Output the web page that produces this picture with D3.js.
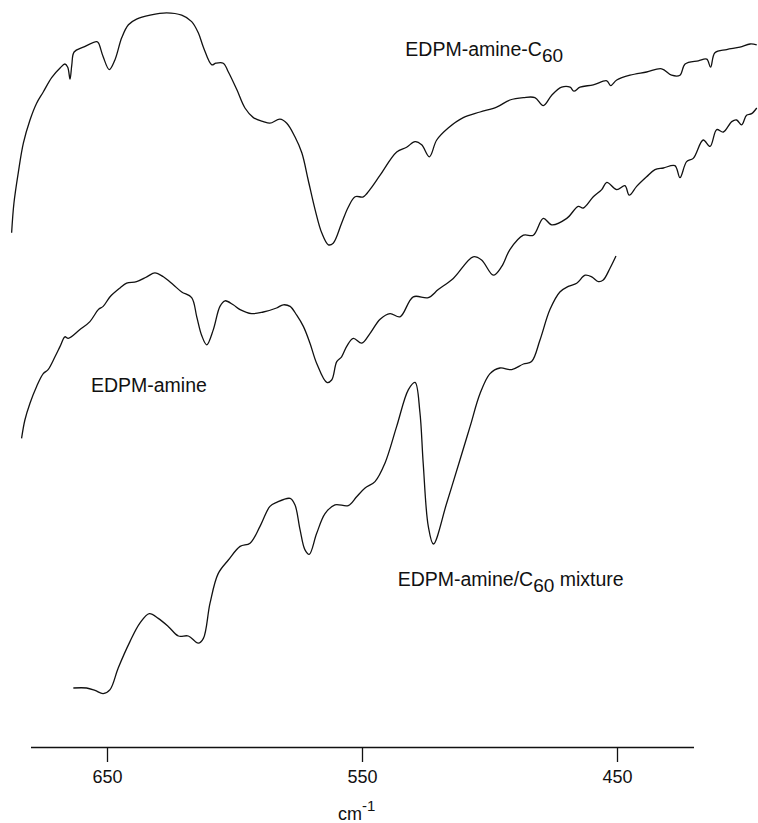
<!DOCTYPE html>
<html>
<head>
<meta charset="utf-8">
<script src="https://cdnjs.cloudflare.com/ajax/libs/d3/7.8.5/d3.min.js"></script>
<style>
  body { margin: 0; background: #fff; }
  svg { display: block; }
  text { font-family: "Liberation Sans", Arial, Helvetica, sans-serif; fill: #111; }
  .line { fill: none; stroke: #111; stroke-width: 1.3; stroke-linejoin: round; }
</style>
</head>
<body>
<script>
"use strict";

// EDPM-amine-C60 (wavenumber, arbitrary transmittance)
var c60Wn = [687.4, 686.5, 684.8, 682.8, 680.2, 677.6, 675, 671.7, 668.4, 666.5, 665.4, 664.5, 663.8, 662.9, 659.3, 654, 653.3, 651.5, 649.1, 646.9, 644.2, 641.6, 638.4, 633.1, 626.6, 620.7, 616.8, 614.2, 612.2, 608.9, 607.3, 604.4, 602.4, 599.1, 595.9, 592.6, 588.7, 586.1, 582.2, 579.5, 576.3, 573.6, 571.1, 568.4, 565.8, 563.2, 561.3, 558, 555.4, 552.7, 549.5, 546.9, 542.9, 536.4, 532.5, 529.2, 526.6, 523.6, 520.7, 516.2, 510.3, 503.7, 497.2, 492, 486.7, 482.2, 478.9, 475.6, 471.7, 468.4, 466.9, 464.5, 459.3, 454, 452.5, 450.1, 444.9, 438.4, 432.5, 428.6, 425.3, 423.3, 418.1, 414.8, 413.3, 411.6, 407, 401.8, 397.8, 395.2];
var c60T = [70.9, 74.6, 78.4, 82.1, 85, 87.1, 88.5, 90.3, 91.5, 92, 91.6, 90.1, 91.9, 93.5, 94.1, 94.8, 94.6, 92.9, 91.3, 92.5, 95.3, 96.9, 97.6, 98.1, 98.4, 98.1, 97.3, 95.9, 94.1, 91.9, 92.1, 92.1, 91, 88.8, 86.5, 85.3, 84.8, 84.6, 85.1, 84.6, 82.9, 80.9, 77.5, 73.8, 70.9, 69.4, 69.6, 72.1, 74.1, 75.4, 75.4, 76.3, 78.1, 81, 81.6, 82.3, 81.9, 80.4, 82.5, 84, 85.3, 86, 86.6, 87.5, 87.8, 87.8, 86.8, 88.1, 89.1, 89.1, 88.6, 89.1, 89.4, 89.9, 89.3, 90, 90.6, 91, 91.4, 90.6, 90.6, 92, 92.4, 92.6, 91.6, 93.4, 93.8, 94.1, 94.5, 94.4];

// EDPM-amine
var amineWn = [683.5, 682.2, 680.2, 677.6, 675, 673.1, 670.4, 668.4, 666.5, 665.2, 660.6, 656.7, 653.4, 651.5, 648.8, 644.9, 642.3, 638.4, 634.4, 631.2, 627.9, 624, 620.7, 616.8, 614.8, 612.9, 610.9, 608.3, 605.7, 603.7, 600.5, 597.8, 593.3, 588.7, 583.5, 580.9, 578.2, 575.6, 573, 570.4, 567.8, 563.8, 561.9, 559.9, 558, 556, 553.4, 550.1, 546.9, 542.9, 539, 535.1, 529.9, 524, 520.1, 514.2, 506.4, 503.1, 498.5, 495.2, 492, 486.7, 482.8, 478.9, 475.6, 469.7, 465.2, 463.2, 459.3, 456, 454, 450.1, 446.9, 445.2, 442.3, 438.4, 435.1, 431.8, 427.3, 425.3, 422.7, 420.1, 416.2, 413.5, 410.9, 408.3, 405, 403.1, 401.1, 399.2, 397.2, 395.2];
var amineT = [45.2, 47.5, 49.6, 51.7, 53.3, 53.8, 55.4, 56.7, 57.9, 57.7, 58.8, 59.8, 61.3, 61.7, 62.9, 64, 64.6, 64.8, 65.4, 65.9, 65.4, 64.4, 63.5, 62.8, 60.4, 58.1, 56.9, 58.8, 61.7, 62.4, 61.9, 61.3, 60.8, 61, 61.5, 61.9, 61.7, 60.6, 59.2, 57.1, 54.6, 52.2, 52.5, 54.8, 55.4, 56.7, 57.7, 57.1, 58.3, 60.1, 60.8, 60.4, 62.9, 62.8, 63.8, 65.2, 67.9, 67.5, 65.6, 66.7, 68.8, 70.6, 70.6, 72.7, 71.9, 72.7, 74.2, 74, 75.4, 76.3, 77.2, 76.3, 76.8, 75.6, 76.7, 77.9, 78.8, 79, 79.3, 77.8, 79.8, 80.2, 82.5, 81.7, 83.8, 83.5, 84.8, 85, 84.4, 85.6, 85.8, 86.5];

// EDPM-amine/C60 mixture
var mixWn = [663.2, 658, 654.7, 651.5, 648.8, 645.6, 641, 637.1, 633.4, 629.9, 626, 622, 618.1, 614.2, 612.2, 609.6, 606.4, 602.4, 597.8, 593.9, 590, 586.1, 583.5, 578.2, 576.3, 574.3, 572.4, 570.7, 567.8, 564.5, 560.6, 555.4, 552.1, 548.8, 544.9, 541, 536.4, 531.8, 529.2, 527.3, 526, 524, 522, 516.8, 511.6, 507.6, 503.7, 499.8, 495.9, 491.3, 486.7, 483.5, 480.2, 476.3, 472.4, 469.1, 465.8, 462.5, 459.9, 457.3, 455.4, 452.7, 450.4];
var mixT = [14, 14, 13.7, 13.3, 13.8, 16.5, 19.8, 22.1, 23.3, 22.7, 21.7, 20.5, 20.5, 19.6, 20.2, 24.6, 28.3, 30, 31.7, 32.1, 34.2, 36.7, 37.2, 37.7, 36.9, 33.8, 31.3, 30.7, 33.3, 35.8, 36.9, 36.8, 37.9, 39, 39.8, 42.1, 46.7, 51.3, 52.2, 48.5, 42.1, 34.2, 32, 37.1, 42.5, 46.7, 50.8, 53.3, 54, 53.8, 54.5, 54.8, 57.5, 61.3, 63.5, 64.2, 64.6, 65.6, 65.4, 64.8, 65, 66.5, 68];

var tickValues = [650, 550, 450];
var axisExtent = [680, 420];

// label text: main part, subscript, tail, anchor (wavenumber, value)
var seriesLabels = [
  { main: "EDPM-amine-C", sub: "60", tail: "", wn: 533, t: 93 },
  { main: "EDPM-amine", sub: "", tail: "", wn: 656.3, t: 51 },
  { main: "EDPM-amine/C", sub: "60", tail: " mixture", wn: 536, t: 26.8 }
];

var width = 758, height = 823;

var svg = d3.select("body").append("svg")
    .attr("width", width)
    .attr("height", height);

// wavenumber runs right to left
var x = d3.scaleLinear().domain([690, 390]).range([5, 770]);
var y = d3.scaleLinear().domain([0, 100]).range([800, 0]);

var valueline = d3.line()
    .x(function(d) { return x(d[0]); })
    .y(function(d) { return y(d[1]); })
    .curve(d3.curveCatmullRom.alpha(0.5));

[[c60Wn, c60T], [amineWn, amineT], [mixWn, mixT]].forEach(function(s) {
  svg.append("path")
      .datum(d3.zip(s[0], s[1]))
      .attr("class", "line")
      .attr("d", valueline);
});

// labels
seriesLabels.forEach(function(l) {
  var t = svg.append("text")
      .attr("x", x(l.wn))
      .attr("y", y(l.t))
      .style("font-size", "19.5px");
  t.append("tspan").text(l.main);
  if (l.sub) {
    t.append("tspan").attr("dy", 6).style("font-size", "19px").text(l.sub);
    if (l.tail) t.append("tspan").attr("dy", -6).text(l.tail);
  }
});

// x axis
var xAxisScale = x.copy().domain(axisExtent).range(axisExtent.map(x));
var axisGroup = svg.append("g")
    .attr("transform", "translate(0,747)")
    .call(d3.axisBottom(xAxisScale)
      .tickValues(tickValues)
      .tickSize(15)
      .tickSizeOuter(0)
      .tickPadding(8));

axisGroup.select(".domain").attr("stroke", "#111").attr("stroke-width", 1.6);
axisGroup.selectAll(".tick line").attr("stroke", "#111").attr("stroke-width", 1.3);
axisGroup.selectAll(".tick text")
    .style("font-size", "18px")
    .style("font-family", "'Liberation Sans', Arial, sans-serif")
    .attr("fill", "#111");

var title = svg.append("text")
    .attr("x", 338)
    .attr("y", 820)
    .style("font-size", "18px");
title.append("tspan").text("cm");
title.append("tspan").attr("dy", -9).style("font-size", "15px").text("-1");
</script>
</body>
</html>
